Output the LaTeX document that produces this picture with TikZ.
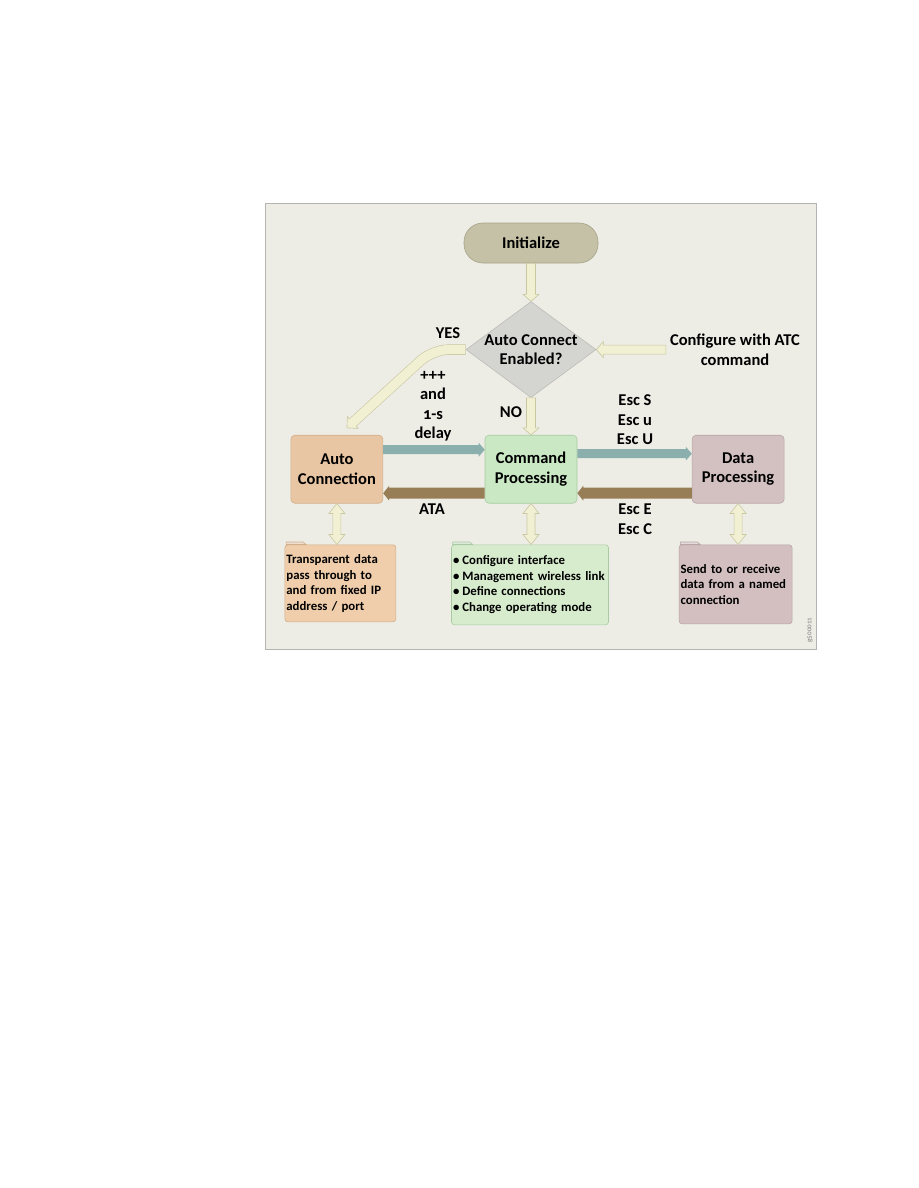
\documentclass[tikz,border=0pt]{standalone}
\usepackage{fontspec}
\setmainfont{Carlito}[Numbers=OldStyle]
\usepackage{tikz}
\usetikzlibrary{positioning, calc, shapes.geometric}

\definecolor{panelfill}{HTML}{EDEDE6}
\definecolor{paneledge}{HTML}{B4B4B0}
\definecolor{initfill}{HTML}{C4C1A6}
\definecolor{initedge}{HTML}{A6A38A}
\definecolor{diafill}{HTML}{D4D4D0}
\definecolor{diaedge}{HTML}{BDBDB8}
\definecolor{creamfill}{HTML}{F1F0D3}
\definecolor{creamedge}{HTML}{C9C6A2}
\definecolor{autofill}{HTML}{E9C6A3}
\definecolor{autoedge}{HTML}{D2AE8A}
\definecolor{cmdfill}{HTML}{C9E8C3}
\definecolor{cmdedge}{HTML}{A9CBA3}
\definecolor{datafill}{HTML}{D3C1C1}
\definecolor{dataedge}{HTML}{B8A5A5}
\definecolor{tealarrow}{HTML}{8BAFAC}
\definecolor{brownarrow}{HTML}{977E57}
\definecolor{autonotefill}{HTML}{F0CEAB}
\definecolor{cmdnotefill}{HTML}{D7ECCD}
\definecolor{datanotefill}{HTML}{D3BFBF}

\tikzset{
  blk shaft/.store in=\blkshaft, blk shaft=4.5pt,
  blk head/.store in=\blkhead, blk head=8pt,
  blk len/.store in=\blklen, blk len=7pt,
  % one-way block arrow
  blockarrow/.style={to path={
      ($(\tikztotarget)!\blklen!(\tikztostart)$) coordinate (blk-neck)
      ($(\tikztostart)!\blkshaft!90:(\tikztotarget)$)
      -- ($(blk-neck)!\blkshaft!-90:(\tikztostart)$)
      -- ($(blk-neck)!\blkhead!-90:(\tikztostart)$)
      -- (\tikztotarget)
      -- ($(blk-neck)!\blkhead!90:(\tikztostart)$)
      -- ($(blk-neck)!\blkshaft!90:(\tikztostart)$)
      -- ($(\tikztostart)!\blkshaft!-90:(\tikztotarget)$)
      -- cycle}},
  % two-way block arrow
  twoway/.style={to path={
      ($(\tikztostart)!\blklen!(\tikztotarget)$) coordinate (blk-a)
      ($(\tikztotarget)!\blklen!(\tikztostart)$) coordinate (blk-b)
      (\tikztostart)
      -- ($(blk-a)!\blkhead!90:(\tikztotarget)$)
      -- ($(blk-a)!\blkshaft!90:(\tikztotarget)$)
      -- ($(blk-b)!\blkshaft!-90:(\tikztostart)$)
      -- ($(blk-b)!\blkhead!-90:(\tikztostart)$)
      -- (\tikztotarget)
      -- ($(blk-b)!\blkhead!90:(\tikztostart)$)
      -- ($(blk-b)!\blkshaft!90:(\tikztostart)$)
      -- ($(blk-a)!\blkshaft!-90:(\tikztotarget)$)
      -- ($(blk-a)!\blkhead!-90:(\tikztotarget)$)
      -- cycle}},
}

\begin{document}
\begin{tikzpicture}[x=1pt, y=-1pt,
        every node/.style={font=\fontsize{16.5}{19.5}\selectfont\bfseries, align=center},
        stagebox/.style={draw, rounded corners=4pt, minimum width=92pt, minimum height=68pt, line width=0.6pt},
        notebox/.style={draw, rounded corners=3pt, align=left, inner sep=1.5pt, line width=0.6pt,
                        font=\fontsize{12.8}{15.5}\selectfont\bfseries},
        lbl/.style={inner sep=1pt},
        creamarrow/.style={fill=creamfill, draw=creamedge, line width=0.6pt}
        ]

        \fill[white] (0,0) rectangle (918,1188);
        \useasboundingbox (0,0) rectangle (918,1188);
        \draw[fill=panelfill, draw=paneledge, line width=1pt] (265,203) rectangle (816,649);

        % Nodes
        \node[draw=initedge, fill=initfill, rounded corners=19pt, minimum width=134pt, minimum height=40pt, line width=0.6pt] (init) at (531,243) {Initialize};
        \node[diamond, shape aspect=1.35, below=38pt of init, draw=diaedge, fill=diafill, minimum width=130pt, minimum height=96pt, inner sep=-3pt, line width=0.6pt] (dia) {Auto Connect\\Enabled?};
        \node[stagebox, below=37pt of dia, fill=cmdfill, draw=cmdedge] (cmd) {Command\\Processing};
        \node[stagebox, left=101.5pt of cmd, fill=autofill, draw=autoedge] (auto) {Auto\\Connection};
        \node[stagebox, right=114.5pt of cmd, fill=datafill, draw=dataedge] (data) {Data\\Processing};

        \node[notebox, below=41pt of auto, xshift=3.5pt, fill=autonotefill, draw=autoedge, text width=108pt, minimum height=77pt] (autonote) {Transparent data\\pass through to\\and from fixed IP\\address / port};
        \node[notebox, below=41pt of cmd, xshift=-1pt, fill=cmdnotefill, draw=cmdedge, text width=154pt, minimum height=80pt] (cmdnote) {\textbullet\hspace{3pt}Configure interface\\\textbullet\hspace{3pt}Management wireless link\\\textbullet\hspace{3pt}Define connections\\\textbullet\hspace{3pt}Change operating mode};
        \node[notebox, below=41pt of data, xshift=-2.5pt, fill=datanotefill, draw=dataedge, text width=110pt, minimum height=79pt] (datanote) {Send to or receive\\data from a named\\connection};

        % folder tabs
        \foreach \n/\c in {autonote/autoedge, cmdnote/cmdedge, datanote/dataedge}
            \filldraw[fill=\c!40!white, draw=\c, line width=0.6pt] ([xshift=1.5pt]\n.north west) -- ++(0,-2.5) -- ++(17,0) -- ++(3,2.5) -- cycle;

        % Arrows
        \draw[creamarrow, blockarrow] (init.south) to (dia.north);
        \draw[creamarrow, blockarrow] (dia.south) to (cmd.north);

        \draw[fill=tealarrow, draw=none, blockarrow, blk shaft=4.5pt, blk head=7pt, blk len=6pt] ([yshift=19.5pt]auto.east) to ([yshift=19.5pt]cmd.west);
        \draw[fill=tealarrow, draw=none, blockarrow, blk shaft=4.5pt, blk head=7pt, blk len=6pt] ([yshift=15.5pt]cmd.east) to ([yshift=15.5pt]data.west);
        \draw[fill=brownarrow, draw=none, blockarrow, blk shaft=5.5pt, blk head=7.5pt, blk len=6pt] ([yshift=-24pt]cmd.west) to ([yshift=-24pt]auto.east);
        \draw[fill=brownarrow, draw=none, blockarrow, blk shaft=5.5pt, blk head=7.5pt, blk len=6pt] ([yshift=-24pt]data.west) to ([yshift=-24pt]cmd.east);

        \draw[creamarrow, twoway, blk shaft=4pt, blk head=8pt, blk len=10pt] (auto.south) to (auto.south |- autonote.north);
        \draw[creamarrow, twoway, blk shaft=4pt, blk head=8pt, blk len=10pt] (cmd.south) to (cmd.south |- cmdnote.north);
        \draw[creamarrow, twoway, blk shaft=4pt, blk head=8pt, blk len=10pt] (data.south) to (data.south |- datanote.north);

        % YES branch
        \coordinate (yesbend) at ([xshift=-33pt]dia.west);
        \coordinate (yestip) at ([xshift=10pt,yshift=7pt]auto.north);
        \coordinate (yesneck) at ($(yestip)!8pt!(yesbend)$);
        \draw[creamedge, line width=10.4pt, rounded corners=16pt] (dia.west) -- (yesbend) -- (yesneck);
        \filldraw[creamarrow] ($(yesneck)!8pt!90:(yestip)$) -- (yestip) -- ($(yesneck)!8pt!-90:(yestip)$) -- cycle;
        \draw[creamfill, line width=9.2pt, rounded corners=16pt] ([xshift=-0.6pt]dia.west) -- (yesbend) -- ($(yesneck)!1.5pt!(yestip)$);

        % Labels
        \node[lbl] (yes) at (448,333) {YES};
        \node[lbl] (plus) at (433,406) {+++\\and\\1-s\\delay};
        \node[lbl] (no) at (511,412) {NO};
        \node[lbl] (escup) at (635,420) {Esc S\\Esc u\\Esc U};
        \node[lbl] (ata) at (432,509) {ATA};
        \node[lbl] (escdown) at (635,519) {Esc E\\Esc C};
        \node[lbl] (cfg) at (735,350) {Configure with ATC\\command};
        \node[font=\fontsize{7}{8}\selectfont, text=gray, rotate=90] (gnum) at (810,630) {g500011};

        \draw[creamarrow, blockarrow] ([xshift=-3pt]cfg.west |- dia.east) to (dia.east);

\end{tikzpicture}
\end{document}
